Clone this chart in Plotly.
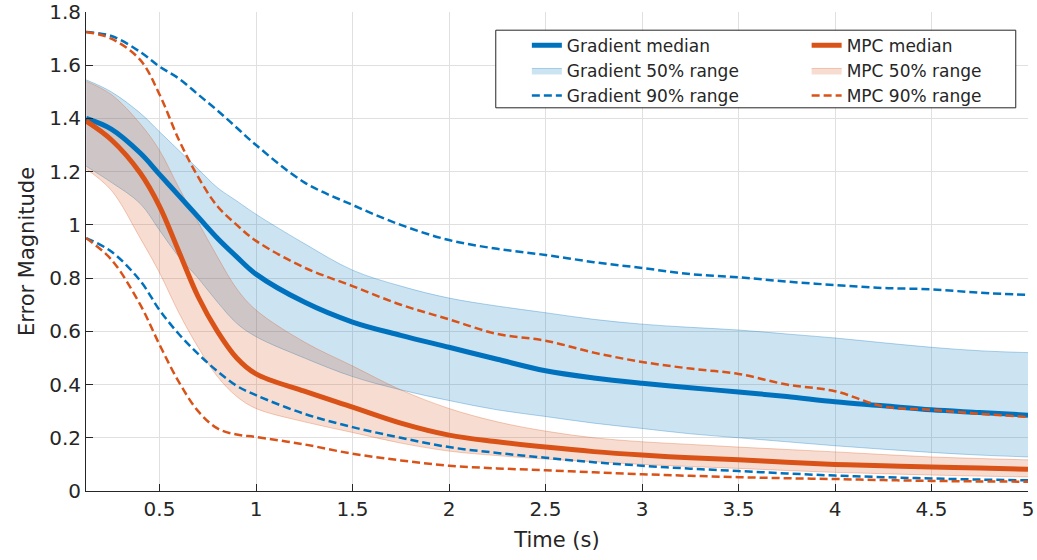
import plotly.graph_objects as go

# time samples (s)
time_s = [0.12, 0.25, 0.4, 0.5, 0.6, 0.7, 0.8, 0.9, 1.0, 1.25, 1.5, 1.75, 2.0,
          2.25, 2.5, 2.75, 3.0, 3.25, 3.5, 3.75, 4.0, 4.25, 4.5, 4.75, 5.0]

grad_median = [1.40, 1.36, 1.27, 1.19, 1.11, 1.03, 0.95, 0.88, 0.815, 0.71, 0.635, 0.585, 0.54,
               0.495, 0.452, 0.425, 0.405, 0.388, 0.372, 0.355, 0.335, 0.32, 0.305, 0.295, 0.285]
grad_q25 = [1.22, 1.16, 1.08, 0.98, 0.88, 0.80, 0.71, 0.63, 0.58, 0.50, 0.43, 0.38, 0.34,
            0.305, 0.28, 0.255, 0.235, 0.215, 0.20, 0.185, 0.17, 0.157, 0.145, 0.135, 0.128]
grad_q75 = [1.545, 1.50, 1.42, 1.35, 1.28, 1.21, 1.14, 1.09, 1.04, 0.93, 0.83, 0.77, 0.725,
            0.695, 0.67, 0.645, 0.627, 0.615, 0.605, 0.59, 0.575, 0.557, 0.54, 0.527, 0.52]
grad_q05 = [0.95, 0.90, 0.79, 0.68, 0.59, 0.515, 0.45, 0.395, 0.36, 0.29, 0.24, 0.20, 0.165,
            0.143, 0.125, 0.108, 0.095, 0.084, 0.075, 0.066, 0.058, 0.052, 0.047, 0.043, 0.04]
grad_q95 = [1.725, 1.71, 1.65, 1.595, 1.55, 1.49, 1.43, 1.365, 1.30, 1.16, 1.075, 1.0, 0.943,
            0.91, 0.887, 0.86, 0.838, 0.815, 0.803, 0.787, 0.774, 0.763, 0.758, 0.745, 0.737]

mpc_median = [1.39, 1.32, 1.195, 1.07, 0.90, 0.73, 0.60, 0.50, 0.44, 0.375, 0.315, 0.255, 0.21,
              0.185, 0.165, 0.148, 0.135, 0.125, 0.117, 0.108, 0.10, 0.095, 0.09, 0.086, 0.082]
mpc_q25 = [1.21, 1.13, 0.95, 0.82, 0.67, 0.54, 0.43, 0.355, 0.31, 0.26, 0.22, 0.18, 0.15,
           0.133, 0.12, 0.11, 0.10, 0.092, 0.085, 0.077, 0.07, 0.065, 0.06, 0.056, 0.053]
mpc_q75 = [1.54, 1.49, 1.38, 1.28, 1.14, 1.01, 0.88, 0.76, 0.68, 0.56, 0.47, 0.38, 0.31,
           0.26, 0.225, 0.20, 0.185, 0.175, 0.165, 0.156, 0.147, 0.137, 0.128, 0.122, 0.117]
mpc_q05 = [0.95, 0.87, 0.70, 0.55, 0.41, 0.30, 0.235, 0.212, 0.203, 0.175, 0.14, 0.115, 0.095,
           0.085, 0.078, 0.07, 0.063, 0.057, 0.052, 0.048, 0.045, 0.041, 0.038, 0.036, 0.035]
mpc_q95 = [1.725, 1.70, 1.62, 1.49, 1.32, 1.18, 1.07, 1.0, 0.94, 0.84, 0.77, 0.70, 0.645,
           0.59, 0.565, 0.52, 0.485, 0.46, 0.44, 0.40, 0.375, 0.318, 0.305, 0.29, 0.278]

BLUE = '#0072BD'
ORANGE = '#D95319'
TEXT = '#262626'
FONT = 'DejaVu Sans'


def band(name, lo, hi, rgb, legend):
    fill = f'rgba({rgb},0.2)'
    edge = f'rgba({rgb},0.3)'
    return [
        go.Scatter(x=time_s, y=lo, mode='lines', line=dict(color=edge, width=1, shape='spline'),
                   showlegend=False, hoverinfo='skip', legend=legend),
        go.Scatter(x=time_s, y=hi, mode='lines', fill='tonexty', fillcolor=fill, name=name,
                   line=dict(color=edge, width=1, shape='spline'), legend=legend, legendrank=2),
    ]


def dashed(name, y, color, legend, show=True):
    return go.Scatter(x=time_s, y=y, mode='lines', name=name, showlegend=show, legend=legend,
                      legendrank=3,
                      line=dict(color=color, width=2.5, dash='8px,4px', shape='spline'))


fig = go.Figure()
for t in band('Gradient 50% range', grad_q25, grad_q75, '0,114,189', 'legend'):
    fig.add_trace(t)
for t in band('MPC 50% range', mpc_q25, mpc_q75, '217,83,25', 'legend2'):
    fig.add_trace(t)

fig.add_trace(go.Scatter(x=time_s, y=grad_median, mode='lines', name='Gradient median',
                         line=dict(color=BLUE, width=5, shape='spline'), legend='legend',
                         legendrank=1))
fig.add_trace(go.Scatter(x=time_s, y=mpc_median, mode='lines', name='MPC median',
                         line=dict(color=ORANGE, width=5, shape='spline'), legend='legend2',
                         legendrank=1))

fig.add_trace(dashed('Gradient 90% range', grad_q95, BLUE, 'legend'))
fig.add_trace(dashed('Gradient 90% range', grad_q05, BLUE, 'legend', show=False))
fig.add_trace(dashed('MPC 90% range', mpc_q95, ORANGE, 'legend2'))
fig.add_trace(dashed('MPC 90% range', mpc_q05, ORANGE, 'legend2', show=False))

axis_common = dict(
    showline=True, linecolor=TEXT, linewidth=1, ticks='inside', ticklen=7, tickcolor=TEXT,
    showgrid=True, gridcolor='#e0e0e0', gridwidth=1, zeroline=False, automargin=False,
    tickfont=dict(family=FONT, size=20, color=TEXT),
)

legend_common = dict(
    bgcolor='rgba(0,0,0,0)', borderwidth=0, font=dict(family=FONT, size=17, color=TEXT),
    xanchor='left', yanchor='top', traceorder='normal', tracegroupgap=0,
)

fig.update_layout(
    width=1037, height=560,
    margin=dict(l=86, r=9, t=12, b=69),
    paper_bgcolor='white', plot_bgcolor='white',
    xaxis=dict(range=[0.119, 5], tick0=0, dtick=0.5,
               title=dict(text='Time (s)', font=dict(family=FONT, size=21, color=TEXT), standoff=12),
               **axis_common),
    yaxis=dict(range=[0, 1.8], tick0=0, dtick=0.2,
               title=dict(text='Error Magnitude', font=dict(family=FONT, size=21, color=TEXT), standoff=8),
               **axis_common),
    legend=dict(x=0.468, y=0.967, **legend_common),
    legend2=dict(x=0.765, y=0.967, **legend_common),
    shapes=[dict(type='rect', xref='paper', yref='paper', x0=0.435, x1=0.987, y0=0.80, y1=0.962,
                 line=dict(color=TEXT, width=1), fillcolor='white', layer='above')],
)

fig.write_html('out.html', config={'displayModeBar': False},
               post_script="document.body.style.margin='0';")
